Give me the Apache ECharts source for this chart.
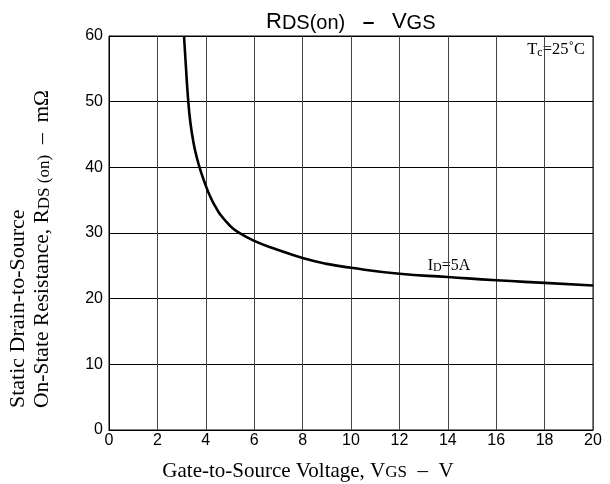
<!DOCTYPE html>
<html><head><meta charset="utf-8">
<script src="https://cdn.jsdelivr.net/npm/echarts@6/dist/echarts.min.js"></script>
<style>html,body{margin:0;padding:0;background:#fff}#c{width:610px;height:484px}</style>
</head><body><div id="c"></div>
<script>
const vgs = [3.10, 3.18, 3.26, 3.36, 3.50, 3.65, 3.80, 4.0, 4.2, 4.4, 4.6, 5.0, 5.3, 6.0, 6.93, 8, 9, 10, 12, 14, 16, 18, 20];
const rds = [60, 55.2, 50.8, 46.9, 43.6, 41.2, 39.3, 37.2, 35.4, 34.0, 32.8, 31.1, 30.2, 28.8, 27.5, 26.2, 25.3, 24.7, 23.8, 23.3, 22.8, 22.4, 22.0];
const xTicks = [0, 2, 4, 6, 8, 10, 12, 14, 16, 18, 20];
const yTicks = [0, 10, 20, 30, 40, 50, 60];

const chart = echarts.init(document.getElementById('c'), null, {renderer: 'canvas'});
const sans = 'Liberation Sans, Arial, sans-serif';
const serif = 'Liberation Serif, Times New Roman, serif';
chart.setOption({
  animation: false,
  backgroundColor: '#fff',
  grid: {left: 109, right: 17, top: 36, bottom: 54, show: true, borderColor: '#000', borderWidth: 1},
  title: {
    left: 261, top: 2,
    text: '{a|R}{b|DS(on)}{c|   –   }{a|V}{b|GS}',
    textStyle: {
      fontWeight: 'normal',
      rich: {
        a: {fontFamily: sans, fontSize: 22, fontWeight: 'normal', color: '#000', lineHeight: 26, verticalAlign: 'bottom'},
        b: {fontFamily: sans, fontSize: 20, fontWeight: 'normal', color: '#000', lineHeight: 24, verticalAlign: 'bottom'},
        c: {fontFamily: sans, fontSize: 21, fontWeight: 'bold', color: '#000', lineHeight: 26, verticalAlign: 'bottom'}
      }
    }
  },
  xAxis: {
    type: 'value', min: xTicks[0], max: xTicks[xTicks.length - 1], interval: 2,
    axisLine: {show: true, lineStyle: {color: '#000', width: 1}},
    axisTick: {show: false},
    axisLabel: {color: '#000', fontFamily: sans, fontSize: 16, margin: 3},
    splitLine: {show: true, lineStyle: {color: '#444', width: 1}}
  },
  yAxis: {
    type: 'value', min: yTicks[0], max: yTicks[yTicks.length - 1], interval: 10,
    axisLine: {show: true, lineStyle: {color: '#000', width: 1}},
    axisTick: {show: false},
    axisLabel: {color: '#000', fontFamily: sans, fontSize: 16, margin: 6},
    splitLine: {show: true, lineStyle: {color: '#000', width: 1}}
  },
  series: [{
    type: 'line', data: vgs.map((v, i) => [v, rds[i]]), smooth: 0.5, symbol: 'none',
    lineStyle: {color: '#000', width: 2.6}, clip: true
  }],
  graphic: [
    {type: 'text', x: 308, y: 470, style: {
      text: '{a|Gate-to-Source Voltage, V}{b|GS}{a|  –  V}', align: 'center', verticalAlign: 'middle',
      rich: {a: {fontFamily: serif, fontSize: 21, fill: '#000', lineHeight: 23, verticalAlign: 'bottom'},
             b: {fontFamily: serif, fontSize: 17, fill: '#000', lineHeight: 17, verticalAlign: 'bottom'}}}},
    {type: 'text', x: 18, y: 408, rotation: Math.PI / 2, style: {
      text: 'Static Drain-to-Source', align: 'left', verticalAlign: 'middle',
      font: '22px ' + serif, fill: '#000'}},
    {type: 'text', x: 42, y: 408, rotation: Math.PI / 2, style: {
      text: '{a|On-State Resistance, R}{b|DS (on)}{a|  –  mΩ}', align: 'left', verticalAlign: 'middle',
      rich: {a: {fontFamily: serif, fontSize: 21.5, fill: '#000', lineHeight: 23, verticalAlign: 'bottom'},
             b: {fontFamily: serif, fontSize: 17, fill: '#000', lineHeight: 17, verticalAlign: 'bottom'}}}},
    {type: 'text', x: 587, y: 49, style: {
      text: '{a|T}{b|c}{a|=25˚C}', align: 'right', verticalAlign: 'middle', backgroundColor: '#fff', padding: [2, 2, 2, 2],
      rich: {a: {fontFamily: serif, fontSize: 16.5, fill: '#000', lineHeight: 19, verticalAlign: 'bottom'},
             b: {fontFamily: serif, fontSize: 12, fill: '#000', lineHeight: 15, verticalAlign: 'bottom'}}}},
    {type: 'text', x: 449, y: 265, style: {
      text: '{a|I}{b|D}{a|=5A}', align: 'center', verticalAlign: 'middle', backgroundColor: '#fff', padding: [1, 1, 1, 1],
      rich: {a: {fontFamily: serif, fontSize: 16, fill: '#000', lineHeight: 18, verticalAlign: 'bottom'},
             b: {fontFamily: serif, fontSize: 12, fill: '#000', lineHeight: 14, verticalAlign: 'bottom'}}}}
  ]
});
</script></body></html>
